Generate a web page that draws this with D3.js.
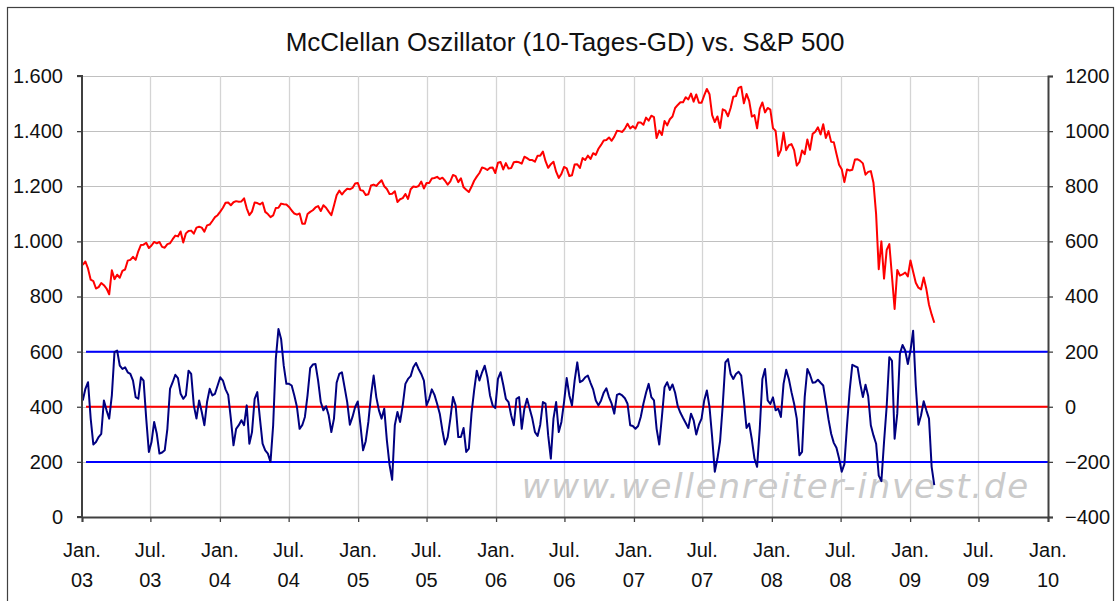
<!DOCTYPE html>
<html><head><meta charset="utf-8">
<script src="https://cdn.jsdelivr.net/npm/d3@7"></script>
<style>
html,body{margin:0;padding:0;background:#fff;}
svg{display:block;font-family:"Liberation Sans",Arial,sans-serif;}
</style></head>
<body>
<svg id="chart" width="1115" height="601"></svg>
<script>
// ---- data ----
const titleText = "McClellan Oszillator (10-Tages-GD) vs. S&P 500";
const seriesStart = "2003-01-03"; // first weekly observation (Friday)
const stepDays = 7;               // weekly observations
const leftTicks = [0, 200, 400, 600, 800, 1000, 1200, 1400, 1600];
const rightTicks = [-400, -200, 0, 200, 400, 600, 800, 1000, 1200];
const xTickDates = ["2003-01-01","2003-07-01","2004-01-01","2004-07-01","2005-01-01","2005-07-01","2006-01-01","2006-07-01","2007-01-01","2007-07-01","2008-01-01","2008-07-01","2009-01-01","2009-07-01","2010-01-01"];
const xTickMonth = ["Jan.","Jul.","Jan.","Jul.","Jan.","Jul.","Jan.","Jul.","Jan.","Jul.","Jan.","Jul.","Jan.","Jul.","Jan."];
const xTickYear = ["03","03","04","04","05","05","06","06","07","07","08","08","09","09","10"];
const refLevels = [200, 0, -200];
const refColors = ["#0000ff", "#ff0000", "#0000ff"];
const watermark = "www.wellenreiter-invest.de";

// S&P 500 (left axis), weekly
const sp500 = [
915,927,901,861,856, 829,834,849,841, 829,808,895,863, 879,868,893,898, 930,933,944,933,964, 987,988,995,976, 985,998,993,998, 980,977,990,993,1008, 1021,1018,1036,996, 1029,1038,1039,1028,1050, 1053,1050,1035,1058, 1061,1074,1088,1095,
1108,1122,1140,1141,1131, 1142,1146,1144,1145, 1156,1120,1095,1108, 1141,1139,1134,1141,1107, 1099,1088,1094,1121, 1122,1137,1135,1134, 1125,1112,1101,1097,1101, 1064,1064,1099,1107, 1113,1123,1128,1110, 1131,1122,1108,1095,1130, 1167,1184,1170,1182, 1191,1189,1194,1210,1212,
1186,1184,1168,1171, 1203,1206,1201,1212, 1222,1200,1190,1172, 1173,1182,1143,1153,1157, 1172,1154,1189,1199, 1197,1201,1217,1192, 1212,1212,1228,1230,1234, 1226,1231,1220,1206, 1218,1241,1237,1215,1229, 1196,1187,1179,1198, 1220,1235,1248,1268, 1265,1259,1267,1268,1248,
1285,1288,1261,1284, 1264,1266,1287,1289, 1287,1282,1307,1302,1295, 1295,1289,1311,1311, 1326,1291,1267,1280, 1289,1253,1230,1245,1270, 1265,1237,1240,1279, 1280,1266,1302,1295, 1311,1299,1320,1314,1336, 1350,1366,1368,1377, 1365,1380,1401,1400, 1397,1409,1427,1410,1418,
1409,1431,1431,1423, 1449,1438,1456,1451, 1375,1402,1386,1437,1421, 1443,1453,1484,1495, 1505,1505,1523,1515, 1536,1507,1533,1503,1503, 1530,1553,1534,1458, 1433,1453,1411,1479,1474, 1454,1484,1525,1527, 1557,1561,1501,1535, 1510,1453,1458,1410,1481, 1504,1468,1484,1478,
1411,1401,1310,1331, 1395,1331,1349,1353,1331, 1275,1288,1330,1316, 1370,1332,1390,1398, 1414,1388,1425,1375,1400, 1361,1360,1318,1278, 1262,1215,1261,1257, 1260,1297,1298,1292,1283, 1242,1252,1255,1213, 1099,899,1000,865,969, 990,873,755,896, 876,880,887,873,
931,890,850,832,826, 869,827,770,735, 705
];

// McClellan oscillator, 10-day average (right axis), weekly
const oscillator = [
23,65,89,-43,-137,-128,-110,-98,23,-13,
-43,41,198,204,149,137,143,125,119,95,
35,29,107,95,-43,-164,-128,-55,-98,-170,
-166,-158,-80,65,89,116,104,47,29,41,
131,119,5,-43,23,-19,-67,17,65,41,
47,77,107,95,63,43,-43,-140,-80,-67,
-49,-67,5,-134,-92,29,53,-43,-134,-158,
-170,-200,-67,173,282,246,149,83,83,77,
41,-1,-80,-67,-37,41,140,153,155,95,
17,-13,2,-31,-92,-43,87,119,125,71,
17,-65,-37,-1,19,-67,-158,-125,-55,41,
113,35,-13,-43,-7,-122,-210,-265,-67,-19,
-55,5,83,101,111,143,159,137,119,95,
5,29,63,43,11,-25,-86,-137,-110,-43,
35,5,-110,-110,-77,-164,-152,-25,59,131,
95,125,149,107,41,5,-5,101,125,80,
29,17,-31,-67,29,35,-80,-7,29,-7,
-43,-92,-106,-65,17,11,-104,-188,-43,17,
-92,-55,17,104,41,5,95,161,89,95,
107,113,87,63,23,5,23,51,67,35,
11,-25,43,47,41,31,11,-67,-70,-80,
-70,-37,11,51,83,35,23,-80,-137,-37,
71,89,61,81,51,2,-22,-41,-59,-77,
-25,-49,-101,-65,-43,23,59,-1,-110,-236,
-188,-125,5,161,173,119,101,119,127,113,
23,-77,-61,-118,-188,-218,-80,101,137,23,
10,34,-13,-7,-37,83,134,101,53,11,
-43,-176,-164,35,137,116,87,89,98,87,
77,17,-46,-98,-131,-149,-188,-236,-208,-67,
59,152,147,143,83,35,80,39,-67,-104,
-134,-250,-270,-128,2,180,167,-116,-25,192,
224,204,155,204,276,77,-65,-31,20,-13,
-43,-218,-284
];

// ---- chart ----
const W = 1115, H = 601;
const m = {left: 82, right: 1048, top: 76, bottom: 517};
const svg = d3.select("#chart");
const parse = d3.utcParse("%Y-%m-%d");
const start = parse(seriesStart);
const dateAt = i => d3.utcDay.offset(start, i * stepDays);

const x = d3.scaleUtc().domain([parse(xTickDates[0]), parse(xTickDates[xTickDates.length-1])]).range([m.left, m.right]);
const yL = d3.scaleLinear().domain([leftTicks[0], leftTicks[leftTicks.length-1]]).range([m.bottom, m.top]);
const yR = d3.scaleLinear().domain([rightTicks[0], rightTicks[rightTicks.length-1]]).range([m.bottom, m.top]);

const de = d3.formatLocale({decimal: ",", thousands: ".", grouping: [3], currency: ["", " €"]});
const fmtL = de.format(",");
const FS = 20;

// outer frame
svg.append("rect").attr("x", 7.5).attr("y", 7.5).attr("width", W - 9).attr("height", H + 5)
  .attr("fill", "#fff").attr("stroke", "#404040").attr("stroke-width", 1.2);

// title
svg.append("text").attr("x", 565).attr("y", 51).attr("text-anchor", "middle")
  .attr("font-size", 26).attr("fill", "#111").text(titleText);

const tickDates = xTickDates.map(parse);

// gridlines
const grid = svg.append("g");
grid.selectAll("line.h").data(leftTicks.slice(1)).join("line")
  .attr("x1", m.left).attr("x2", m.right)
  .attr("y1", d => Math.round(yL(d)) + 0.5).attr("y2", d => Math.round(yL(d)) + 0.5)
  .attr("stroke", "#c0c0c0").attr("stroke-width", 1);
grid.selectAll("line.v").data(tickDates.slice(1, -1)).join("line")
  .attr("x1", d => Math.round(x(d)) + 0.5).attr("x2", d => Math.round(x(d)) + 0.5)
  .attr("y1", m.top).attr("y2", m.bottom)
  .attr("stroke", "#d4d4d4").attr("stroke-width", 1.3);

// watermark
svg.append("text").attr("x", 1030).attr("y", 498).attr("text-anchor", "end")
  .attr("font-size", 34).attr("font-style", "italic").attr("letter-spacing", 1.8)
  .attr("fill", "#cacaca").attr("font-family", "'DejaVu Sans', sans-serif").text(watermark);

// reference lines (right axis)
svg.append("g").selectAll("line").data(refLevels).join("line")
  .attr("x1", m.left + 4).attr("x2", m.right)
  .attr("y1", d => yR(d)).attr("y2", d => yR(d))
  .attr("stroke", (d, i) => refColors[i]).attr("stroke-width", 2);

// S&P 500 line
const lineL = d3.line().x((d, i) => x(dateAt(i))).y(d => yL(d));
svg.append("path").datum(sp500).attr("d", lineL)
  .attr("fill", "none").attr("stroke", "#ff0000").attr("stroke-width", 2).attr("stroke-linejoin", "round");

// Oscillator line
const lineR = d3.line().x((d, i) => x(dateAt(i))).y(d => yR(d));
svg.append("path").datum(oscillator).attr("d", lineR)
  .attr("fill", "none").attr("stroke", "#000080").attr("stroke-width", 2).attr("stroke-linejoin", "round");

// axes
const axisColor = "#404040";
const gL = svg.append("g").attr("transform", `translate(${m.left},0)`)
  .call(d3.axisLeft(yL).tickValues(leftTicks).tickFormat(fmtL).tickSize(5).tickPadding(14));
const gR = svg.append("g").attr("transform", `translate(${m.right},0)`)
  .call(d3.axisRight(yR).tickValues(rightTicks).tickFormat(d3.format("d")).tickSize(5).tickPadding(12));
const gB = svg.append("g").attr("transform", `translate(0,${m.bottom})`)
  .call(d3.axisBottom(x).tickValues(tickDates).tickFormat(() => "").tickSize(5));
[gL, gR, gB].forEach(g => {
  g.select(".domain").attr("stroke", axisColor).attr("stroke-width", 2);
  g.selectAll(".tick line").attr("stroke", axisColor).attr("stroke-width", 1.3);
  g.selectAll("text").attr("font-size", FS).attr("fill", "#111")
    .attr("font-family", "'Liberation Sans', Arial, sans-serif");
});
gL.select(".domain").attr("d", `M-5,${m.bottom}H0V${m.top}H-5`);

// two-line x tick labels
const xl = svg.append("g");
xl.selectAll("text.m").data(tickDates).join("text")
  .attr("x", d => x(d)).attr("y", 557).attr("text-anchor", "middle")
  .attr("font-size", FS).attr("fill", "#111").text((d, i) => xTickMonth[i]);
xl.selectAll("text.y").data(tickDates).join("text")
  .attr("x", d => x(d)).attr("y", 587).attr("text-anchor", "middle")
  .attr("font-size", FS).attr("fill", "#111").text((d, i) => xTickYear[i]);
</script>
</body></html>
